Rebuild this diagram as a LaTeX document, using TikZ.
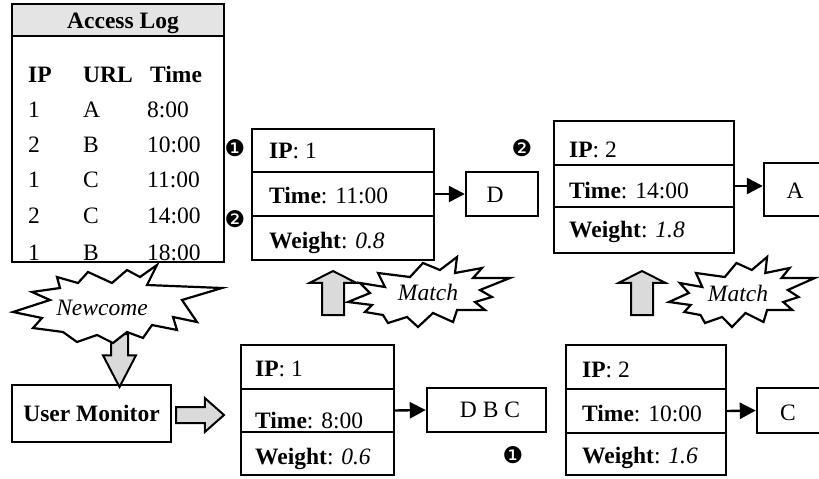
\documentclass[tikz,border=0pt]{standalone}
\usepackage{fontspec}
\setmainfont{Liberation Serif}
\newfontfamily\dingfont{DejaVu Sans}
\usetikzlibrary{arrows.meta,shapes.arrows}

\definecolor{headgray}{HTML}{E4E4E4}
\definecolor{arrowgray}{HTML}{DADADA}

\tikzset{
  cell/.style={draw, line width=2.4pt, inner sep=0pt},
  txt/.style={anchor=base west, inner sep=0pt, font=\fontsize{23.5}{28}\selectfont},
  ctxt/.style={anchor=base, inner sep=0pt, font=\fontsize{23.5}{28}\selectfont},
  numtag/.style={anchor=center, inner sep=0pt, font=\dingfont\fontsize{23}{26}\selectfont},
  link/.style={line width=2.4pt, -{Triangle[length=16pt,width=16pt]}},
  fatarrow/.style={single arrow, draw, fill=arrowgray, line width=2pt, inner xsep=0pt, anchor=tail},
  burst/.style={draw, fill=white, line width=2.2pt, line join=miter},
  % 爆炸框轮廓（相对文字中心）
  newburst/.pic={
    \draw[burst] (-45,-31) -- (-24,-25) -- (-14,-36) -- (10,-25) -- (25,-38) -- (38,-31)
      -- (55,-43) -- (45,-23) -- (120,-20) -- (80,-8) -- (95,14) -- (71,9) -- (75,22)
      -- (50,17) -- (41,30) -- (25,24) -- (11,35) -- (-5,27) -- (-25,34) -- (-39,24)
      -- (-69,20) -- (-60,10) -- (-89,4) -- (-52,-8) -- (-70,-16) -- (-42,-20) -- cycle;
  },
  matchburst/.pic={
    \draw[burst] (-50,-20) -- (-18,-16) -- (-5,-30) -- (12,-23) -- (29,-36) -- (27,-20)
      -- (54,-25) -- (45,-15) -- (82,-15) -- (52,-3) -- (64,4) -- (47,9) -- (57,17)
      -- (29,17) -- (25,29) -- (5,20) -- (-10,34) -- (-21,24) -- (-40,30) -- (-45,22)
      -- (-63,19) -- (-56,12) -- (-80,9) -- (-58,0) -- (-68,-10) -- (-43,-6) -- cycle;
  },
}

\begin{document}
\begin{tikzpicture}[x=1pt, y=-1pt]

  %% ════ Access Log 表 ════
  \node[cell, fill=headgray, minimum width=212pt, minimum height=32pt] (loghead) at (118,20) {};
  \node[cell, minimum width=212pt, minimum height=226pt] (logbody) at (118,149) {};
  \node[ctxt] (logtitle) at (123,28) {\textbf{Access Log}};

  \node[txt] (hIP)   at (28,82)  {\textbf{IP}};
  \node[txt] (hURL)  at (83,82)  {\textbf{URL}};
  \node[txt] (hTime) at (150,82) {\textbf{Time}};

  \node[txt] (ipA) at (28,117) {1};  \node[txt] (urlA) at (83,117) {A};  \node[txt] (tmA) at (147,117) {8:00};
  \node[txt] (ipB) at (28,152) {2};  \node[txt] (urlB) at (83,152) {B};  \node[txt] (tmB) at (147,152) {10:00};
  \node[txt] (ipC) at (28,187) {1};  \node[txt] (urlC) at (83,187) {C};  \node[txt] (tmC) at (147,187) {11:00};
  \node[txt] (ipD) at (28,223) {2};  \node[txt] (urlD) at (83,223) {C};  \node[txt] (tmD) at (147,223) {14:00};
  \node[txt] (ipE) at (28,260) {1};  \node[txt] (urlE) at (83,260) {B};  \node[txt] (tmE) at (147,260) {18:00};

  %% ════ 上排：匹配后的记录 ════
  \node[cell, minimum width=182pt, minimum height=43pt] (m1ip)   at (343,150.5) {};
  \node[cell, minimum width=182pt, minimum height=44pt] (m1time) at (343,194)   {};
  \node[cell, minimum width=182pt, minimum height=44pt] (m1wt)   at (343,238)   {};
  \node[cell, minimum width=72pt,  minimum height=44pt] (boxD)   at (502,194)   {};

  \node[cell, minimum width=180pt, minimum height=44pt] (m2ip)   at (644,143) {};
  \node[cell, minimum width=180pt, minimum height=42pt] (m2time) at (644,186) {};
  \node[cell, minimum width=180pt, minimum height=46pt] (m2wt)   at (644,230) {};
  \node[cell, minimum width=60pt,  minimum height=53pt] (boxA)   at (794,189.5) {};

  \node[txt] (m1ipT)   at (269,158) {\textbf{IP}: 1};
  \node[txt] (m1timeT) at (269,203) {\textbf{Time}: 11:00};
  \node[txt] (m1wtT)   at (269,248) {\textbf{Weight}: \textit{0.8}};
  \node[ctxt] (labD)   at (495,202) {D};

  \node[txt] (m2ipT)   at (569,157) {\textbf{IP}: 2};
  \node[txt] (m2timeT) at (569,198) {\textbf{Time}: 14:00};
  \node[txt] (m2wtT)   at (569,237) {\textbf{Weight}: \textit{1.8}};
  \node[ctxt] (labA)   at (795,198) {A};

  %% ════ 下排：User Monitor 与初始记录 ════
  \node[cell, minimum width=159pt, minimum height=57pt, font=\fontsize{23.5}{28}\selectfont\bfseries] (monitor) at (91.5,413.5) {User Monitor};

  \node[cell, minimum width=153pt, minimum height=44pt] (u1ip)   at (317.5,367)   {};
  \node[cell, minimum width=153pt, minimum height=43pt] (u1time) at (317.5,410.5) {};
  \node[cell, minimum width=153pt, minimum height=43pt] (u1wt)   at (317.5,453.5) {};
  \node[cell, minimum width=119pt, minimum height=44pt] (boxDBC) at (486.5,410)   {};

  \node[cell, minimum width=160pt, minimum height=44pt] (u2ip)   at (646,367) {};
  \node[cell, minimum width=160pt, minimum height=44pt] (u2time) at (646,411) {};
  \node[cell, minimum width=160pt, minimum height=42pt] (u2wt)   at (646,454) {};
  \node[cell, minimum width=67pt,  minimum height=45pt] (boxC)   at (790.5,410.5) {};

  \node[txt] (u1ipT)   at (255,376) {\textbf{IP}: 1};
  \node[txt] (u1timeT) at (255,428) {\textbf{Time}: 8:00};
  \node[txt] (u1wtT)   at (255,464) {\textbf{Weight}: \textit{0.6}};
  \node[ctxt] (labDBC) at (490,417) {D B C};

  \node[txt] (u2ipT)   at (582,377) {\textbf{IP}: 2};
  \node[txt] (u2timeT) at (582,421) {\textbf{Time}: 10:00};
  \node[txt] (u2wtT)   at (582,463) {\textbf{Weight}: \textit{1.6}};
  \node[ctxt] (labC)   at (788,420) {C};

  %% ════ 细箭头 ════
  \draw[link] (m1time.east) -- (boxD.west);
  \draw[link] (m2time.east) -- (m2time.east -| boxA.west);
  \draw[link] (u1time.east) -- (boxDBC.west);
  \draw[link] (u2time.east) -- (boxC.west);

  %% ════ 灰色粗箭头 ════
  \node[fatarrow, rotate=-90, minimum height=53pt, inner ysep=7.5pt,
        single arrow head extend=8pt, single arrow tip angle=55] (newdown) at (119.5,333) {};
  \node[fatarrow, minimum height=48pt, inner ysep=7pt,
        single arrow head extend=9pt, single arrow tip angle=83] (monright) at (175,415) {};
  \node[fatarrow, rotate=90, minimum height=44pt, inner ysep=10pt,
        single arrow head extend=12.5pt, single arrow tip angle=126] (upA) at (333,316) {};
  \node[fatarrow, rotate=90, minimum height=44pt, inner ysep=10pt,
        single arrow head extend=12.5pt, single arrow tip angle=126] (upB) at (642,316) {};

  %% ════ 爆炸框 ════
  \pic at (102,308) {newburst};
  \node[ctxt] (newcome) at (102,315) {\textit{Newcome}};
  \pic at (428,293) {matchburst};
  \node[ctxt] (matchA) at (428,300) {\textit{Match}};
  \pic[xscale=0.9] at (741,293) {matchburst};
  \node[ctxt] (matchB) at (738,301) {\textit{Match}};

  %% ════ 编号 ════
  \node[numtag] (tag1a) at (235,148) {❶};
  \node[numtag] (tag2a) at (235,219) {❷};
  \node[numtag] (tag2b) at (522,148) {❷};
  \node[numtag] (tag1b) at (513,455) {❶};

  % 固定画布大小
  \pgfresetboundingbox
  \path[use as bounding box] (0,0) rectangle (819,479);
\end{tikzpicture}
\end{document}
